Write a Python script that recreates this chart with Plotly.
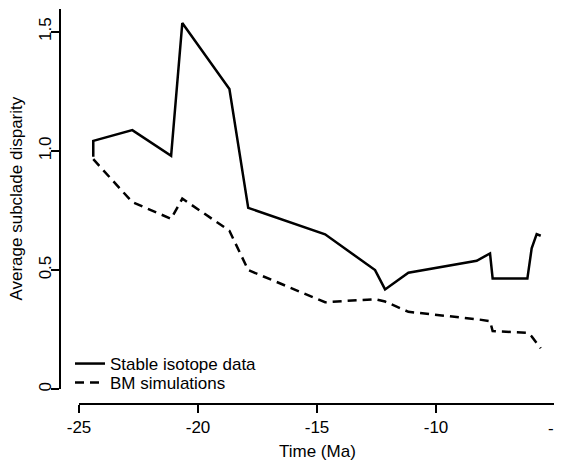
import plotly.graph_objects as go

# Data
time_ma = [-24.40, -24.40, -22.76, -21.13, -20.66, -18.68, -17.89, -14.66, -12.56,
           -12.14, -11.16, -8.29, -7.73, -7.62, -6.16, -5.98, -5.77, -5.60]
isotope = [0.975, 1.042, 1.087, 0.979, 1.536, 1.259, 0.761, 0.650, 0.500,
           0.419, 0.489, 0.539, 0.570, 0.465, 0.465, 0.591, 0.651, 0.644]
bm_sim = [0.965, 0.965, 0.785, 0.715, 0.800, 0.665, 0.500, 0.365, 0.378,
          0.368, 0.325, 0.294, 0.286, 0.244, 0.237, 0.222, 0.195, 0.172]

x_ticks = [-25, -20, -15, -10, -5]
x_ticklabels = ["-25", "-20", "-15", "-10", "-5"]
y_ticks = [0, 0.5, 1.0, 1.5]
y_ticklabels = ["0", "0.5", "1.0", "1.5"]

FONT = "Liberation Sans, Arial, sans-serif"

fig = go.Figure()
fig.add_trace(go.Scatter(x=time_ma, y=isotope, mode="lines",
                         name="Stable isotope data", legend="legend",
                         line=dict(color="black", width=2.5)))
fig.add_trace(go.Scatter(x=time_ma[1:], y=bm_sim[1:], mode="lines",
                         name="BM simulations", legend="legend2",
                         line=dict(color="black", width=2.5, dash="9px,6px")))

# page has an 8px body margin; figure coordinates = page coordinates - 8
W, H = 562, 455
ml, mr, mt, mb = 52, 15, 1, 59
pw = W - ml - mr
ph = H - mt - mb


def py(fig_y):
    return (H - mb - fig_y) / ph


def px(fig_x):
    return (fig_x - ml) / pw


leg_common = dict(xanchor="left", yanchor="top", bgcolor="rgba(0,0,0,0)",
                  borderwidth=0, font=dict(family=FONT, size=17, color="black"),
                  itemwidth=30)

# last x tick label is drawn as an annotation so it is not hidden at the edge
axis_ticktext = x_ticklabels[:-1] + [""]
tick_font = dict(family=FONT, size=17, color="black")

fig.update_layout(
    width=W, height=H,
    margin=dict(l=ml, r=mr, t=mt, b=mb, pad=0),
    paper_bgcolor="white", plot_bgcolor="white",
    font=dict(family=FONT, size=17, color="black"),
    showlegend=True,
    legend=dict(x=px(62), y=py(338), **leg_common),
    legend2=dict(x=px(62), y=py(357), **leg_common),
    xaxis=dict(range=[-25.0001, -4.9999], domain=[px(71), 1], anchor="free", position=0,
               showline=True, linecolor="black", linewidth=2,
               ticks="outside", ticklen=8, tickwidth=2, tickcolor="black",
               tickvals=x_ticks, ticktext=axis_ticktext,
               showgrid=False, zeroline=False, automargin=False,
               tickfont=tick_font),
    yaxis=dict(range=[0, 1.595], domain=[py(381.3), 1], anchor="free", position=0,
               showline=True, linecolor="black", linewidth=2,
               ticks="outside", ticklen=8, tickwidth=2, tickcolor="black",
               tickvals=y_ticks, ticktext=y_ticklabels, tickangle=-90,
               ticklabelstandoff=-7,
               showgrid=False, zeroline=False, automargin=False,
               tickfont=tick_font),
    annotations=[
        dict(text=x_ticklabels[-1], xref="x", yref="paper", x=x_ticks[-1], y=py(420),
             xanchor="center", yanchor="middle", showarrow=False, font=tick_font),
        dict(text="Time (Ma)", xref="x", yref="paper", x=-15, y=py(443),
             xanchor="center", yanchor="middle", showarrow=False,
             font=dict(family=FONT, size=17, color="black")),
        dict(text="Average subclade disparity", xref="paper", yref="y",
             x=px(9), y=0.8, textangle=-90,
             xanchor="center", yanchor="middle", showarrow=False,
             font=dict(family=FONT, size=17, color="black")),
    ],
)

fig.write_html("out.html")
